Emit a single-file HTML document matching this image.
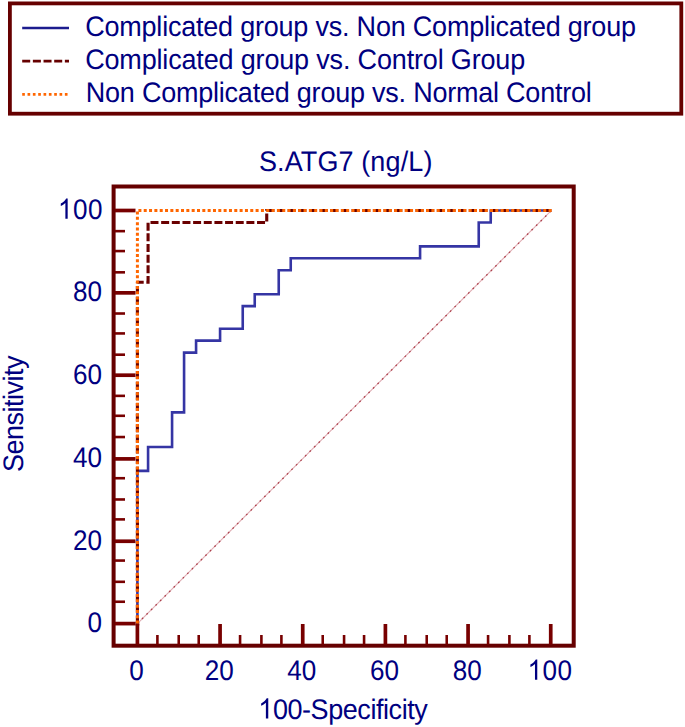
<!DOCTYPE html>
<html><head><meta charset="utf-8"><title>ROC curves</title>
<style>
html,body{margin:0;padding:0;background:#fff;}
svg{display:block;}
text{font-family:"Liberation Sans",sans-serif;font-size:28.2px;fill:#000080;text-rendering:geometricPrecision;}
</style></head><body>
<svg width="685" height="727" viewBox="0 0 685 727">
<defs>
<filter id="soft" x="-2%" y="-2%" width="104%" height="104%"><feGaussianBlur stdDeviation="0.55"/></filter>
<filter id="soft2" x="-2%" y="-2%" width="104%" height="104%"><feGaussianBlur stdDeviation="0.4"/></filter>
</defs>
<rect x="0" y="0" width="685" height="727" fill="#ffffff"/>
<g filter="url(#soft2)">
<rect x="9.9" y="3.4" width="671.4" height="110.3" fill="none" stroke="#660000" stroke-width="3.8"/>
<line x1="22.2" y1="28.0" x2="69" y2="28.0" stroke="#1c1c8e" stroke-width="2.4"/>
<line x1="22.2" y1="61.2" x2="69" y2="61.2" stroke="#660000" stroke-width="2.8" stroke-dasharray="8 2.667"/>
<line x1="22.2" y1="94.4" x2="69" y2="94.4" stroke="#ff6600" stroke-width="2.8" stroke-dasharray="2.667 2.667"/>
</g>
<text transform="translate(85.20,36.30) scale(0.95745,1)" textLength="575.28" lengthAdjust="spacing">Complicated group vs. Non Complicated group</text>
<text transform="translate(85.20,69.30) scale(0.95745,1)" textLength="459.56" lengthAdjust="spacing">Complicated group vs. Control Group</text>
<text transform="translate(85.80,102.00) scale(0.95745,1)" textLength="528.49" lengthAdjust="spacing">Non Complicated group vs. Normal Control</text>
<text transform="translate(258.90,171.40) scale(0.95745,1)" textLength="181.21" lengthAdjust="spacing">S.ATG7 (ng/L)</text>
<g filter="url(#soft2)">
<rect x="113.6" y="186.5" width="460.1" height="459.2" fill="none" stroke="#660000" stroke-width="4"/>
<line x1="115" y1="623.60" x2="135.5" y2="623.60" stroke="#780000" stroke-width="3.7"/>
<line x1="137.40" y1="644.5" x2="137.40" y2="624" stroke="#780000" stroke-width="3.7"/>
<line x1="115" y1="601.75" x2="125" y2="601.75" stroke="#780000" stroke-width="2.6"/>
<line x1="157.40" y1="644.5" x2="157.40" y2="635" stroke="#780000" stroke-width="2.6"/>
<line x1="115" y1="581.82" x2="125" y2="581.82" stroke="#780000" stroke-width="2.6"/>
<line x1="178.73" y1="644.5" x2="178.73" y2="635" stroke="#780000" stroke-width="2.6"/>
<line x1="115" y1="560.57" x2="125" y2="560.57" stroke="#780000" stroke-width="2.6"/>
<line x1="198.73" y1="644.5" x2="198.73" y2="635" stroke="#780000" stroke-width="2.6"/>
<line x1="115" y1="541.25" x2="135.5" y2="541.25" stroke="#780000" stroke-width="3.7"/>
<line x1="220.07" y1="644.5" x2="220.07" y2="624" stroke="#780000" stroke-width="3.7"/>
<line x1="115" y1="519.39" x2="125" y2="519.39" stroke="#780000" stroke-width="2.6"/>
<line x1="240.07" y1="644.5" x2="240.07" y2="635" stroke="#780000" stroke-width="2.6"/>
<line x1="115" y1="499.47" x2="125" y2="499.47" stroke="#780000" stroke-width="2.6"/>
<line x1="261.40" y1="644.5" x2="261.40" y2="635" stroke="#780000" stroke-width="2.6"/>
<line x1="115" y1="478.22" x2="125" y2="478.22" stroke="#780000" stroke-width="2.6"/>
<line x1="281.40" y1="644.5" x2="281.40" y2="635" stroke="#780000" stroke-width="2.6"/>
<line x1="115" y1="458.89" x2="135.5" y2="458.89" stroke="#780000" stroke-width="3.7"/>
<line x1="302.73" y1="644.5" x2="302.73" y2="624" stroke="#780000" stroke-width="3.7"/>
<line x1="115" y1="437.04" x2="125" y2="437.04" stroke="#780000" stroke-width="2.6"/>
<line x1="322.73" y1="644.5" x2="322.73" y2="635" stroke="#780000" stroke-width="2.6"/>
<line x1="115" y1="415.79" x2="125" y2="415.79" stroke="#780000" stroke-width="2.6"/>
<line x1="344.07" y1="644.5" x2="344.07" y2="635" stroke="#780000" stroke-width="2.6"/>
<line x1="115" y1="395.86" x2="125" y2="395.86" stroke="#780000" stroke-width="2.6"/>
<line x1="364.07" y1="644.5" x2="364.07" y2="635" stroke="#780000" stroke-width="2.6"/>
<line x1="115" y1="375.21" x2="135.5" y2="375.21" stroke="#780000" stroke-width="3.7"/>
<line x1="385.40" y1="644.5" x2="385.40" y2="624" stroke="#780000" stroke-width="3.7"/>
<line x1="115" y1="354.68" x2="125" y2="354.68" stroke="#780000" stroke-width="2.6"/>
<line x1="405.40" y1="644.5" x2="405.40" y2="635" stroke="#780000" stroke-width="2.6"/>
<line x1="115" y1="333.43" x2="125" y2="333.43" stroke="#780000" stroke-width="2.6"/>
<line x1="426.73" y1="644.5" x2="426.73" y2="635" stroke="#780000" stroke-width="2.6"/>
<line x1="115" y1="313.51" x2="125" y2="313.51" stroke="#780000" stroke-width="2.6"/>
<line x1="446.73" y1="644.5" x2="446.73" y2="635" stroke="#780000" stroke-width="2.6"/>
<line x1="115" y1="292.85" x2="135.5" y2="292.85" stroke="#780000" stroke-width="3.7"/>
<line x1="468.07" y1="644.5" x2="468.07" y2="624" stroke="#780000" stroke-width="3.7"/>
<line x1="115" y1="272.33" x2="125" y2="272.33" stroke="#780000" stroke-width="2.6"/>
<line x1="488.07" y1="644.5" x2="488.07" y2="635" stroke="#780000" stroke-width="2.6"/>
<line x1="115" y1="251.08" x2="125" y2="251.08" stroke="#780000" stroke-width="2.6"/>
<line x1="509.40" y1="644.5" x2="509.40" y2="635" stroke="#780000" stroke-width="2.6"/>
<line x1="115" y1="231.15" x2="125" y2="231.15" stroke="#780000" stroke-width="2.6"/>
<line x1="529.40" y1="644.5" x2="529.40" y2="635" stroke="#780000" stroke-width="2.6"/>
<line x1="115" y1="210.50" x2="135.5" y2="210.50" stroke="#780000" stroke-width="3.7"/>
<line x1="550.73" y1="644.5" x2="550.73" y2="624" stroke="#780000" stroke-width="3.7"/>
<rect x="135.55" y="621.75" width="3.7" height="3.7" fill="#780000"/>
</g>
<text transform="translate(101.90,631.90) scale(0.92500,1)" text-anchor="end">0</text>
<text transform="translate(136.50,679.80) scale(0.92500,1)" text-anchor="middle">0</text>
<text transform="translate(101.90,549.55) scale(0.92500,1)" text-anchor="end">20</text>
<text transform="translate(219.17,679.80) scale(0.92500,1)" text-anchor="middle">20</text>
<text transform="translate(101.90,467.19) scale(0.92500,1)" text-anchor="end">40</text>
<text transform="translate(301.83,679.80) scale(0.92500,1)" text-anchor="middle">40</text>
<text transform="translate(101.90,383.51) scale(0.92500,1)" text-anchor="end">60</text>
<text transform="translate(384.50,679.80) scale(0.92500,1)" text-anchor="middle">60</text>
<text transform="translate(101.90,301.15) scale(0.92500,1)" text-anchor="end">80</text>
<text transform="translate(467.17,679.80) scale(0.92500,1)" text-anchor="middle">80</text>
<path transform="translate(57.95,218.80) scale(0.012737,-0.013770)" d="M763,0 L583,0 L583,1147 Q518,1085 412.5,1023 Q307,961 223,930 L223,1104 Q374,1175 487,1276 Q600,1377 647,1472 L763,1472 Z" fill="#000080"/>
<text transform="translate(72.90,218.80) scale(0.92500,1)" style="letter-spacing:0.541px">00</text>
<path transform="translate(527.55,679.80) scale(0.012737,-0.013770)" d="M763,0 L583,0 L583,1147 Q518,1085 412.5,1023 Q307,961 223,930 L223,1104 Q374,1175 487,1276 Q600,1377 647,1472 L763,1472 Z" fill="#000080"/>
<text transform="translate(542.50,679.80) scale(0.92500,1)" style="letter-spacing:0.541px">00</text>
<path transform="translate(258.20,718.60) scale(0.013184,-0.013770)" d="M763,0 L583,0 L583,1147 Q518,1085 412.5,1023 Q307,961 223,930 L223,1104 Q374,1175 487,1276 Q600,1377 647,1472 L763,1472 Z" fill="#000080"/>
<text transform="translate(272.90,718.60) scale(0.95745,1)" textLength="161.78" lengthAdjust="spacing">00-Specificity</text>
<text transform="translate(22.60,472.00) rotate(-90) scale(0.95745,1)" textLength="121.68" lengthAdjust="spacing">Sensitivity</text>
<line x1="137.4" y1="623.6" x2="551.2" y2="210.7" stroke="#b43a4a" stroke-width="1.1" opacity="0.42"/>
<line x1="137.4" y1="623.6" x2="551.2" y2="210.7" stroke="#96101e" stroke-width="1.3" stroke-dasharray="1.8 4.6" opacity="0.7"/>
<g filter="url(#soft)">
<path d="M137.40,623.60 L137.40,470.85 L148.07,470.85 L148.07,446.94 L172.07,446.94 L172.07,412.40 L184.07,412.40 L184.07,352.63 L196.07,352.63 L196.07,340.67 L220.07,340.67 L220.07,328.72 L242.73,328.72 L242.73,306.14 L254.73,306.14 L254.73,294.18 L278.73,294.18 L278.73,270.27 L290.73,270.27 L290.73,258.32 L420.07,258.32 L420.07,246.36 L478.73,246.36 L478.73,222.45 L490.73,222.45 L490.73,210.50 L550.73,210.50" fill="none" stroke="#3434a4" stroke-width="2.6" stroke-linejoin="miter"/>
<line x1="137.40" y1="623.60" x2="137.40" y2="282.23" stroke="#6a0505" stroke-width="3.1" stroke-dasharray="7.97 2.657" stroke-dashoffset="-0.17"/>
<path d="M137.40,282.23 L148.07,282.23 L148.07,222.45 L266.73,222.45 L266.73,210.50 L552.00,210.50" fill="none" stroke="#6a0505" stroke-width="3.1" stroke-dasharray="7.99 2.664" stroke-dashoffset="1.7"/>
<line x1="137.40" y1="623.60" x2="137.40" y2="210.50" stroke="#ff6600" stroke-width="3.0" stroke-dasharray="3.0 2.313" stroke-dashoffset="0"/>
<line x1="137.40" y1="210.50" x2="552.00" y2="210.50" stroke="#ff6600" stroke-width="3.0" stroke-dasharray="3.0 2.327" stroke-dashoffset="-1.0"/>
</g>
</svg>
</body></html>
